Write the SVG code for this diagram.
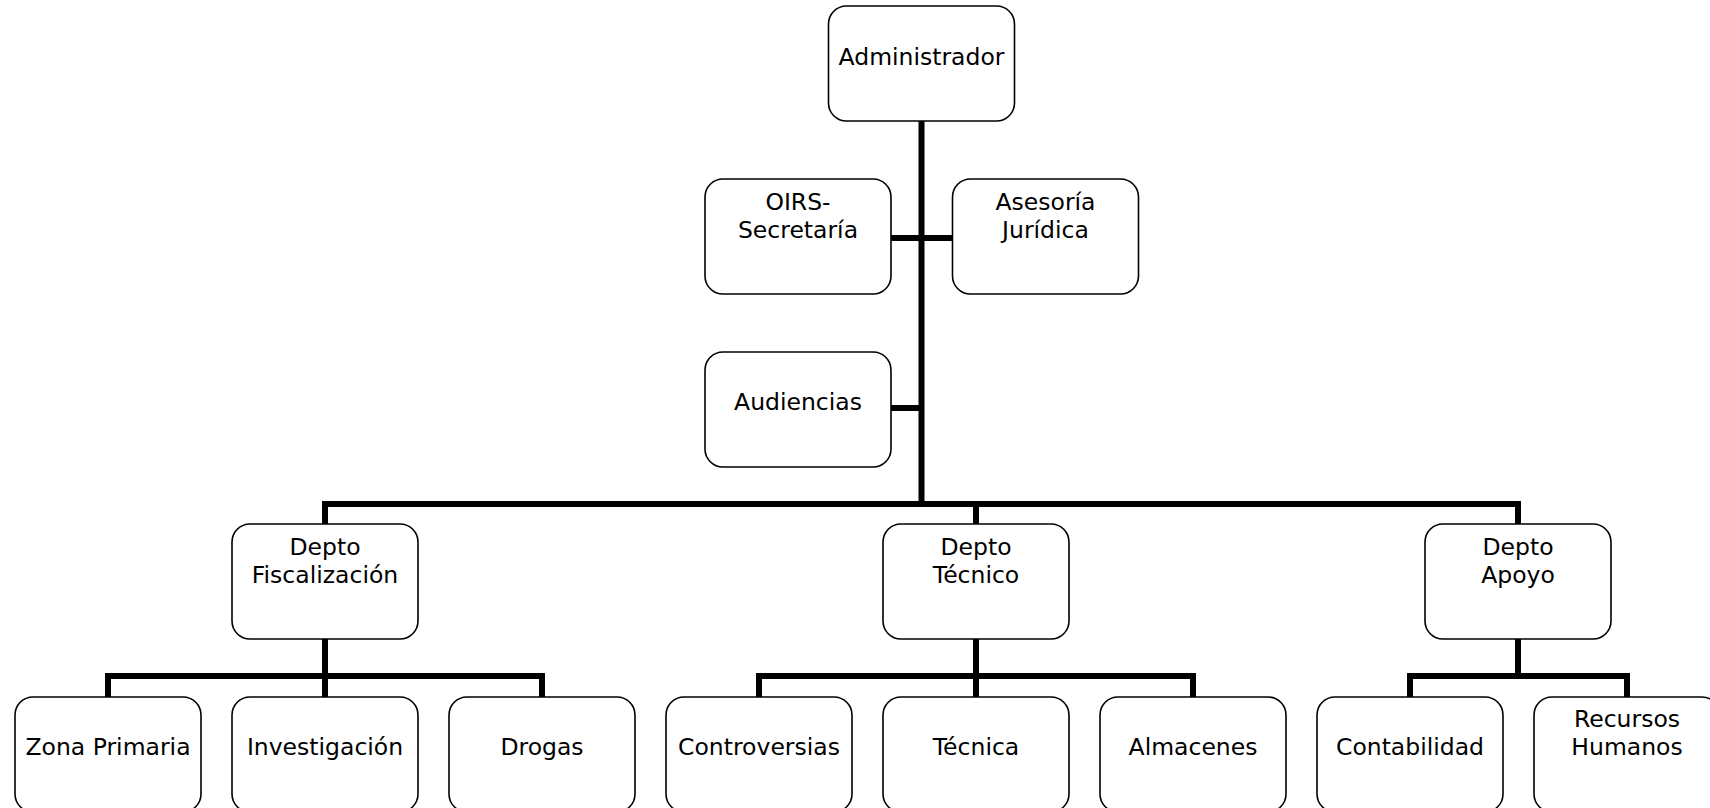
<svg xmlns="http://www.w3.org/2000/svg" width="1710" height="808" viewBox="0 0 1710 808">
  <style>
    .box { fill: #ffffff; stroke: #000000; stroke-width: 1.6; }
    .lbl { font-family: "DejaVu Sans", Verdana, sans-serif; font-size: 23.5px; fill: #000000; text-anchor: middle; }
    .wire { fill: none; stroke: #000000; stroke-width: 6; stroke-linejoin: miter; stroke-linecap: butt; }
  </style>
  <defs>
    <rect id="card" width="186" height="115" rx="18" ry="18"/>
  </defs>
  <rect width="1710" height="808" fill="#ffffff"/>

  <!-- connectors -->
  <g id="connectors">
    <path class="wire" d="M921.5 121 V504"/>
    <path class="wire" d="M891 238 H953"/>
    <path class="wire" d="M891 408 H921.5"/>
    <path class="wire" d="M325 524 V504 H1518 V524"/>
    <path class="wire" d="M976 504 V524"/>
    <path class="wire" d="M325 639 V676"/>
    <path class="wire" d="M108 697 V676 H542 V697"/>
    <path class="wire" d="M325 676 V697"/>
    <path class="wire" d="M976 639 V676"/>
    <path class="wire" d="M759 697 V676 H1193 V697"/>
    <path class="wire" d="M976 676 V697"/>
    <path class="wire" d="M1518 639 V676"/>
    <path class="wire" d="M1410 697 V676 H1627 V697"/>
  </g>

  <!-- top -->
  <g id="administrador">
    <use href="#card" class="box" x="828.5" y="6"/>
    <text class="lbl" x="921.5" y="65">Administrador</text>
  </g>

  <!-- staff units -->
  <g id="oirs-secretaria">
    <use href="#card" class="box" x="705" y="179"/>
    <text class="lbl" x="798" y="210">OIRS-</text>
    <text class="lbl" x="798" y="238">Secretaría</text>
  </g>
  <g id="asesoria-juridica">
    <use href="#card" class="box" x="952.5" y="179"/>
    <text class="lbl" x="1045.5" y="210">Asesoría</text>
    <text class="lbl" x="1045.5" y="238">Jurídica</text>
  </g>
  <g id="audiencias">
    <use href="#card" class="box" x="705" y="352"/>
    <text class="lbl" x="798" y="410">Audiencias</text>
  </g>

  <!-- departments -->
  <g id="depto-fiscalizacion">
    <use href="#card" class="box" x="232" y="524"/>
    <text class="lbl" x="325" y="555">Depto</text>
    <text class="lbl" x="325" y="583">Fiscalización</text>
  </g>
  <g id="depto-tecnico">
    <use href="#card" class="box" x="883" y="524"/>
    <text class="lbl" x="976" y="555">Depto</text>
    <text class="lbl" x="976" y="583">Técnico</text>
  </g>
  <g id="depto-apoyo">
    <use href="#card" class="box" x="1425" y="524"/>
    <text class="lbl" x="1518" y="555">Depto</text>
    <text class="lbl" x="1518" y="583">Apoyo</text>
  </g>

  <!-- sections -->
  <g id="zona-primaria">
    <use href="#card" class="box" x="15" y="697"/>
    <text class="lbl" x="108" y="755">Zona Primaria</text>
  </g>
  <g id="investigacion">
    <use href="#card" class="box" x="232" y="697"/>
    <text class="lbl" x="325" y="755">Investigación</text>
  </g>
  <g id="drogas">
    <use href="#card" class="box" x="449" y="697"/>
    <text class="lbl" x="542" y="755">Drogas</text>
  </g>
  <g id="controversias">
    <use href="#card" class="box" x="666" y="697"/>
    <text class="lbl" x="759" y="755">Controversias</text>
  </g>
  <g id="tecnica">
    <use href="#card" class="box" x="883" y="697"/>
    <text class="lbl" x="976" y="755">Técnica</text>
  </g>
  <g id="almacenes">
    <use href="#card" class="box" x="1100" y="697"/>
    <text class="lbl" x="1193" y="755">Almacenes</text>
  </g>
  <g id="contabilidad">
    <use href="#card" class="box" x="1317" y="697"/>
    <text class="lbl" x="1410" y="755">Contabilidad</text>
  </g>
  <g id="recursos-humanos">
    <use href="#card" class="box" x="1534" y="697"/>
    <text class="lbl" x="1627" y="727">Recursos</text>
    <text class="lbl" x="1627" y="755">Humanos</text>
  </g>
</svg>
